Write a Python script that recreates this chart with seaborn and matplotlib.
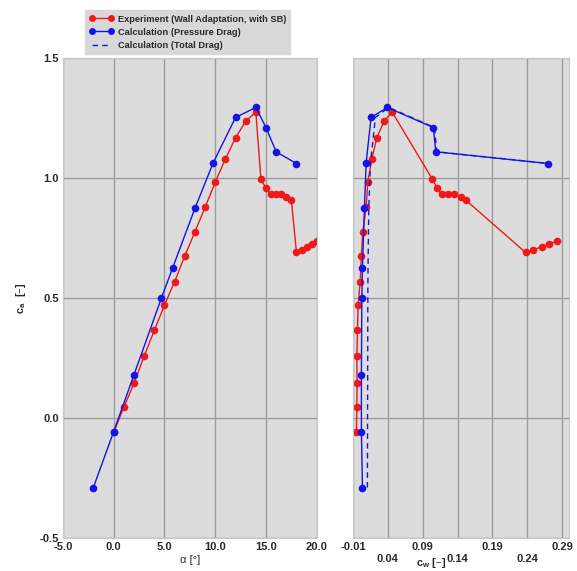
import matplotlib
matplotlib.use("Agg")
import matplotlib.pyplot as plt
import seaborn as sns
import pandas as pd
from matplotlib.lines import Line2D

# ---------------- data ----------------
exp_alpha = [0, 1, 2, 3, 4, 5, 6, 7, 8, 9, 10, 11, 12, 13, 14,
             14.5, 15, 15.5, 16, 16.5, 17, 17.5, 18, 18.5, 19, 19.5, 20]
exp_cl = [-0.06, 0.045, 0.144, 0.258, 0.365, 0.47, 0.568, 0.675, 0.776, 0.878,
          0.983, 1.08, 1.168, 1.2375, 1.276, 0.996, 0.957, 0.933, 0.936, 0.933,
          0.922, 0.908, 0.69, 0.70, 0.714, 0.725, 0.739]
exp_cd = [-0.0052, -0.0047, -0.0043, -0.0047, -0.0038, -0.0028, 0.0001, 0.0018,
          0.0039, 0.0087, 0.011, 0.0168, 0.024, 0.0345, 0.046, 0.1038, 0.111,
          0.1173, 0.1268, 0.1349, 0.1445, 0.152, 0.2378, 0.2478, 0.2607,
          0.2716, 0.283]

calc_alpha = [-2, 0, 2, 4.7, 5.8, 8, 9.8, 12, 14, 15, 16, 18]
calc_cl = [-0.29, -0.057, 0.18, 0.50, 0.625, 0.874, 1.064, 1.253, 1.295,
           1.211, 1.11, 1.061]
calc_cd_pressure = [0.0034, 0.0019, 0.0019, 0.0025, 0.0034, 0.0062, 0.0087,
                    0.0158, 0.0392, 0.1052, 0.1087, 0.270]
calc_cd_total = [0.0105, 0.0107, 0.0109, 0.0111, 0.0114, 0.0125, 0.0150,
                 0.0220, 0.0410, 0.1070, 0.1100, 0.272]

alpha_ticks = [-5.0, 0.0, 5.0, 10.0, 15.0, 20.0]
cl_ticks = [-0.5, 0.0, 0.5, 1.0, 1.5]
cd_ticks = [-0.01, 0.04, 0.09, 0.14, 0.19, 0.24, 0.29]

labels = ["Experiment (Wall Adaptation, with SB)",
          "Calculation (Pressure Drag)",
          "Calculation (Total Drag)"]

exp_df = pd.DataFrame({"alpha": exp_alpha, "cl": exp_cl, "cd": exp_cd})
calc_df = pd.DataFrame({"alpha": calc_alpha, "cl": calc_cl,
                        "cdp": calc_cd_pressure, "cdt": calc_cd_total})

# ---------------- style ----------------
sns.set_style("whitegrid", {
    "axes.facecolor": "#dcdcdc",
    "grid.color": "#9c9c9c",
    "axes.edgecolor": "#c8c8c8",
})
plt.rcParams["font.family"] = ["Liberation Sans", "DejaVu Sans"]
plt.rcParams["font.weight"] = "bold"

RED = "#f01818"
BLUE = "#1414e6"
TXT = "#2a2a2a"

fig = plt.figure(figsize=(5.77, 5.71), dpi=100)
axL = fig.add_axes([0.109, 0.058, 0.440, 0.840])
axR = fig.add_axes([0.612, 0.058, 0.374, 0.840])

mk = dict(marker="o", markersize=5.5, markeredgewidth=0, linewidth=1.0)

# left panel: c_a vs alpha
sns.lineplot(data=exp_df, x="alpha", y="cl", ax=axL, sort=False,
             estimator=None, color=RED, **mk)
sns.lineplot(data=calc_df, x="alpha", y="cl", ax=axL, sort=False,
             estimator=None, color=BLUE, **mk)

# right panel: c_a vs c_w
sns.lineplot(data=exp_df, x="cd", y="cl", ax=axR, sort=False,
             estimator=None, color=RED, **mk)
sns.lineplot(data=calc_df, x="cdt", y="cl", ax=axR, sort=False,
             estimator=None, color=BLUE, linewidth=1.0, linestyle=(0, (4, 3)))
sns.lineplot(data=calc_df, x="cdp", y="cl", ax=axR, sort=False,
             estimator=None, color=BLUE, **mk)

for ax in (axL, axR):
    ax.set_ylim(-0.5, 1.5)
    ax.set_yticks(cl_ticks)
    ax.grid(True, linewidth=1.0)
    ax.tick_params(length=0, labelsize=8, colors=TXT, pad=3)
    for s in ax.spines.values():
        s.set_linewidth(0.8)

axL.set_xlim(-5, 20)
axL.set_xticks(alpha_ticks)
axL.set_xticklabels([f"{t:.1f}" for t in alpha_ticks], fontweight="bold")
axL.set_yticklabels([f"{t:.1f}" for t in cl_ticks], fontweight="bold")
axL.set_xlabel("α [°]", fontsize=8, color=TXT, labelpad=2, fontweight="normal")
axL.set_ylabel("c$_\\mathregular{a}$  [–]", fontsize=8, color=TXT,
               labelpad=8, fontweight="bold")

axR.set_xlim(-0.01, 0.30)
axR.set_xticks(cd_ticks)
axR.set_xticklabels([("" if i % 2 == 0 else "\n") + f"{t:.2f}"
                     for i, t in enumerate(cd_ticks)], fontweight="bold")
axR.set_yticklabels([])
axR.set_xlabel("c$_\\mathregular{w}$ [–]", fontsize=8, color=TXT,
               fontweight="bold")
axR.xaxis.set_label_coords(0.36, -0.038)
axR.set_ylabel("")

handles = [
    Line2D([], [], color=RED, marker="o", markersize=5, markeredgewidth=0,
           linewidth=1.0),
    Line2D([], [], color=BLUE, marker="o", markersize=5, markeredgewidth=0,
           linewidth=1.0),
    Line2D([], [], color=BLUE, linewidth=1.0, linestyle=(0, (4, 3))),
]
leg = fig.legend(handles, labels, loc="upper left",
                 bbox_to_anchor=(0.140, 0.990), fontsize=6.7,
                 frameon=True, fancybox=False, facecolor="#d8d8d8",
                 edgecolor="#d8d8d8", framealpha=1.0, handlelength=2.6,
                 handletextpad=0.4, labelspacing=0.45, borderpad=0.45,
                 numpoints=2)
for t in leg.get_texts():
    t.set_fontweight("bold")
    t.set_color(TXT)

fig.savefig("out.png", dpi=100, facecolor="white")
